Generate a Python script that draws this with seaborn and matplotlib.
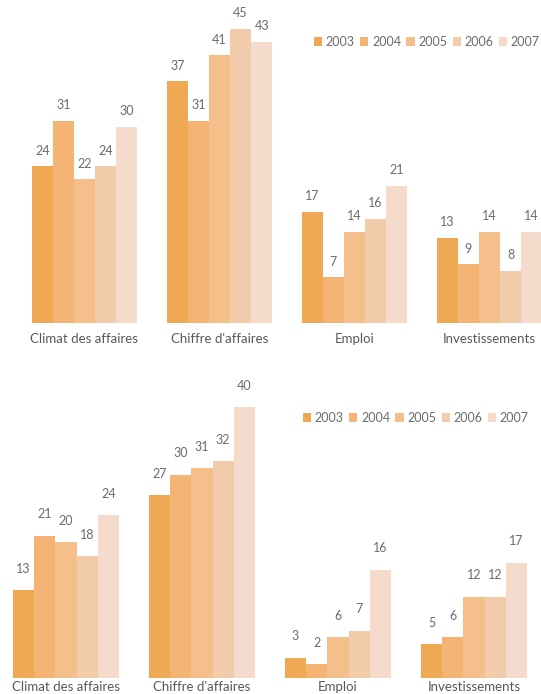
import matplotlib
matplotlib.use("Agg")
import matplotlib.pyplot as plt
from matplotlib.patches import Patch
import seaborn as sns
import pandas as pd

# chart data
categories = ["Climat des affaires", "Chiffre d'affaires", "Emploi", "Investissements"]
years = ["2003", "2004", "2005", "2006", "2007"]

top_climat = [24, 31, 22, 24, 30]
top_chiffre = [37, 31, 41, 45, 43]
top_emploi = [17, 7, 14, 16, 21]
top_invest = [13, 9, 14, 8, 14]

bot_climat = [13, 21, 20, 18, 24]
bot_chiffre = [27, 30, 31, 32, 40]
bot_emploi = [3, 2, 6, 7, 16]
bot_invest = [5, 6, 12, 12, 17]

colors = ["#EFA955", "#F4B473", "#F5BF8B", "#F2CBAA", "#F4DBCB"]


def make_df(series):
    rows = []
    for cat, vals in zip(categories, series):
        for yr, v in zip(years, vals):
            rows.append({"cat": cat, "year": yr, "value": v})
    return pd.DataFrame(rows)


def draw_panel(ax, df, xlim, ylim, label_pad, value_pad, legend_anchor):
    sns.barplot(data=df, x="cat", y="value", hue="year", order=categories,
                hue_order=years, palette=colors, width=0.78, saturation=1,
                linewidth=0, ax=ax, legend=False)
    for cont in ax.containers:
        ax.bar_label(cont, padding=value_pad, fontsize=9, color="#6b6b6b")
    ax.set_xlim(*xlim)
    ax.set_ylim(*ylim)
    ax.set_xlabel("")
    ax.set_ylabel("")
    ax.set_yticks([])
    ax.tick_params(axis="x", length=0, pad=label_pad, labelsize=9.5, labelcolor="#595959")
    for s in ax.spines.values():
        s.set_visible(False)
    handles = [Patch(facecolor=c, edgecolor="none", label=y) for c, y in zip(colors, years)]
    ax.legend(handles=handles, ncol=5, frameon=False, loc="center left",
              bbox_to_anchor=legend_anchor, bbox_transform=fig.transFigure,
              handlelength=0.65, handleheight=0.65, handletextpad=0.3,
              columnspacing=0.42, fontsize=9, labelcolor="#6b6b6b",
              borderpad=0, borderaxespad=0)


sns.set_style("white")
plt.rcParams["font.family"] = ["Lato", "DejaVu Sans"]
W, H = 541, 694
fig = plt.figure(figsize=(W / 100, H / 100), dpi=100)

# top panel: baseline at y=323 px, 6.53 px per unit
ax1 = fig.add_axes([0, (H - 323) / H, 1, 323 / H])
draw_panel(ax1, make_df([top_climat, top_chiffre, top_emploi, top_invest]),
           (-84.5 / 135, (W - 84.5) / 135), (0, 323 / 6.53), 7, 7,
           (314 / W, (H - 42) / H))

# bottom panel: baseline at y=678 px, 6.78 px per unit
ax2 = fig.add_axes([0, (H - 678) / H, 1, 300 / H])
draw_panel(ax2, make_df([bot_climat, bot_chiffre, bot_emploi, bot_invest]),
           (-66 / 136, (W - 66) / 136), (0, 300 / 6.78), 2.5, 11,
           (303 / W, (H - 418) / H))

fig.savefig("out.png", dpi=100)
